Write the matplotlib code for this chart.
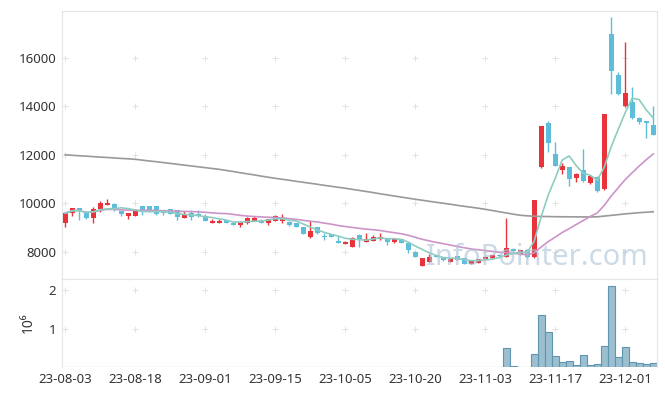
import matplotlib
matplotlib.use("Agg")
import matplotlib.pyplot as plt
import numpy as np
import pandas as pd

plt.rcParams['font.family'] = ['Noto Sans', 'DejaVu Sans']

# trading days (KRX holidays removed)
holidays = ['2023-08-15', '2023-09-28', '2023-09-29', '2023-10-02', '2023-10-03', '2023-10-09']
days = pd.bdate_range('2023-08-03', '2023-12-07')
days = days[~days.isin(pd.to_datetime(holidays))]

opens = [9170, 9610, 9790, 9650, 9380, 9750, 9940, 9970, 9690, 9480,
         9480, 9880, 9880, 9880, 9720, 9750, 9720, 9410, 9610, 9560,
         9490, 9200, 9200, 9310, 9200, 9100, 9170, 9270, 9310, 9200,
         9280, 9270, 9240, 9170, 9030, 8620, 9000, 8660, 8720, 8460,
         8310, 8210, 8690, 8420, 8460, 8510, 8510, 8420, 8510, 8350,
         8000, 7410, 7590, 7860, 7730, 7590, 7820, 7730, 7490, 7540,
         7690, 7720, 7880, 7780, 8130, 7900, 8080, 7770, 11480, 13330,
         12030, 11380, 11480, 11040, 11370, 10820, 11100, 10590, 16980, 15300,
         14020, 14200, 13540, 13400, 13240]
highs = [9600, 9800, 9800, 9680, 9860, 10080, 10170, 10000, 9700, 9600,
         9750, 9890, 9890, 9890, 9730, 9760, 9730, 9700, 9720, 9720,
         9540, 9350, 9340, 9320, 9210, 9250, 9450, 9480, 9330, 9350,
         9520, 9540, 9250, 9180, 9040, 9280, 9020, 8760, 8740, 8650,
         8430, 8600, 8730, 8790, 8690, 8790, 8520, 8550, 8530, 8410,
         8010, 7740, 7890, 7870, 7770, 7730, 7830, 7740, 7650, 7700,
         7810, 7870, 7900, 9400, 8150, 8090, 8100, 10150, 13200, 13400,
         12520, 11680, 11490, 11250, 12240, 11170, 11130, 13680, 17690, 15400,
         16670, 14800, 13560, 13410, 14020]
lows = [9010, 9490, 9300, 9350, 9200, 9650, 9930, 9700, 9470, 9350,
        9470, 9520, 9640, 9530, 9520, 9550, 9310, 9400, 9310, 9420,
        9270, 9190, 9190, 9190, 9090, 9030, 9160, 9260, 9190, 9100,
        9270, 9170, 9080, 9020, 8710, 8550, 8730, 8480, 8600, 8360,
        8300, 8200, 8180, 8400, 8440, 8500, 8280, 8350, 8340, 7930,
        7790, 7400, 7580, 7790, 7620, 7570, 7650, 7480, 7480, 7520,
        7680, 7700, 7790, 7770, 8000, 7880, 7760, 7760, 11450, 12100,
        11550, 11200, 10720, 10890, 10880, 10800, 10460, 10560, 14500, 14480,
        13990, 13480, 13270, 12690, 12800]
closes = [9590, 9790, 9720, 9380, 9750, 10000, 10000, 9750, 9560, 9590,
          9680, 9720, 9720, 9560, 9590, 9560, 9420, 9560, 9450, 9490,
          9280, 9280, 9280, 9200, 9100, 9240, 9380, 9380, 9200, 9340,
          9490, 9380, 9100, 9030, 8720, 8860, 8790, 8590, 8620, 8370,
          8410, 8580, 8510, 8510, 8620, 8620, 8420, 8510, 8350, 8090,
          7800, 7730, 7800, 7800, 7670, 7690, 7660, 7500, 7630, 7690,
          7800, 7850, 7810, 8160, 8020, 8080, 7770, 10150, 13200, 12470,
          11550, 11550, 11000, 11200, 10910, 11130, 10490, 13680, 15440, 14500,
          14570, 13510, 13370, 13330, 12830]
volumes = [25000, 4000, 4000, 4000, 4000, 25000, 4000, 4000, 4000, 4000,
           4000, 4000, 4000, 4000, 20000, 4000, 4000, 4000, 20000, 4000,
           4000, 4000, 4000, 4000, 4000, 4000, 4000, 4000, 4000, 4000,
           4000, 4000, 4000, 4000, 20000, 4000, 4000, 4000, 4000, 4000,
           4000, 4000, 4000, 4000, 4000, 4000, 4000, 4000, 4000, 4000,
           25000, 25000, 4000, 4000, 4000, 20000, 4000, 4000, 4000, 4000,
           4000, 4000, 4000, 500000, 30000, 3000, 3000, 360000, 1360000, 910000,
           290000, 140000, 170000, 60000, 320000, 60000, 80000, 550000, 2100000, 260000,
           520000, 140000, 110000, 80000, 110000]
# long moving average
ma_long = [12000, 11980, 11960, 11945, 11925, 11905, 11890, 11870, 11850, 11835,
           11815, 11780, 11745, 11715, 11680, 11645, 11610, 11575, 11540, 11505,
           11470, 11435, 11400, 11355, 11310, 11260, 11215, 11170, 11120, 11075,
           11030, 10990, 10950, 10905, 10865, 10825, 10785, 10740, 10700, 10660,
           10620, 10575, 10530, 10485, 10440, 10390, 10345, 10300, 10255, 10210,
           10165, 10125, 10080, 10040, 10000, 9960, 9915, 9875, 9835, 9795,
           9750, 9700, 9650, 9600, 9550, 9505, 9480, 9465, 9455, 9450,
           9445, 9442, 9440, 9438, 9436, 9435, 9440, 9470, 9500, 9530,
           9560, 9585, 9610, 9630, 9650]

up_color = '#e8333b'
down_color = '#5ebeda'

x = np.arange(len(days))
o = np.array(opens); h = np.array(highs); l = np.array(lows); c = np.array(closes)
ma5 = pd.Series(closes).rolling(5, min_periods=1).mean()
ma20 = pd.Series(closes).rolling(20, min_periods=1).mean()

fig = plt.figure(figsize=(6.65, 3.96), dpi=100)
ax = fig.add_axes([0.0928, 0.2967, 0.8947, 0.6763])
axv = fig.add_axes([0.0928, 0.072, 0.8947, 0.2247])

cols = np.where(c >= o, up_color, down_color)
ax.vlines(x, l, h, colors=cols, lw=1, zorder=2)
ax.bar(x, np.maximum(np.abs(c - o), 25), bottom=np.minimum(o, c), width=0.72,
       color=cols, zorder=3)

ax.plot(x, ma_long, color='#999999', lw=1.2, zorder=4)
ax.plot(x, ma20, color='#cc94c8', lw=1.2, zorder=4)
ax.plot(x, ma5, color='#8dcdc1', lw=1.2, zorder=4)

ax.text(67.5, 7470, 'InfoPointer.com', fontsize=21, color='#a9c2d6', alpha=0.6,
        ha='center', va='baseline', zorder=5)

axv.bar(x, volumes, width=1.0, color='#9bbfcf', edgecolor='#5f95b0', lw=0.8)

xt = list(range(0, len(days), 10))
price_ticks = [8000, 10000, 12000, 14000, 16000]
vol_ticks = [1e6, 2e6]

for a, yt in [(ax, price_ticks), (axv, vol_ticks)]:
    for xx in xt:
        a.plot([xx] * len(yt), yt, '+', color='#e2e2e2', ms=5, mew=0.7, zorder=0)
    a.set_xlim(-0.5, len(days) - 0.5)
    a.set_xticks(xt)
    a.set_yticks(yt)
    a.tick_params(length=0, pad=4, labelsize=9.5, colors='#333333')
    for s in a.spines.values():
        s.set_color('#e6e6e6')

ax.set_ylim(6893, 17950)
ax.set_yticklabels([str(v) for v in price_ticks])
ax.set_xticklabels([])

axv.set_ylim(0, 2.3e6)
axv.set_yticklabels(['1', '2'])
axv.set_xticklabels([days[i].strftime('%y-%m-%d') for i in xt])
axv.spines['bottom'].set_visible(False)
axv.set_ylabel('10⁶', fontsize=10, color='#333333', labelpad=9)

fig.savefig('out.png', dpi=100)
